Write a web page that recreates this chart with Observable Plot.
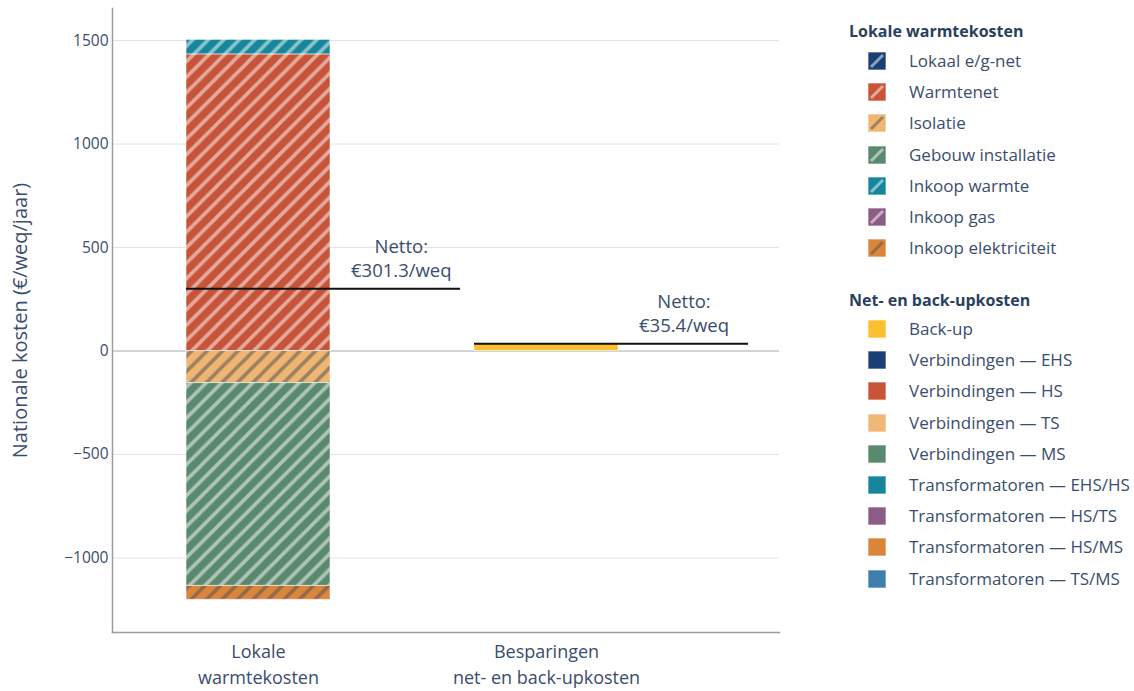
<!DOCTYPE html>
<html>
<head>
<meta charset="utf-8">
<script src="https://cdn.jsdelivr.net/npm/d3@7"></script>
<script src="https://cdn.jsdelivr.net/npm/@observablehq/plot@0.6"></script>
<style>
  body { margin: 0; background: #fff; font-family: "Open Sans", sans-serif; }
  #wrap { position: relative; width: 1134px; height: 691px; overflow: hidden; }
  #chart { position: absolute; left: 0; top: 0; }
  #legend { position: absolute; left: 0; top: 0; width: 1134px; height: 691px; pointer-events: none; }
  .lg-title { position: absolute; font-weight: 700; font-size: 16px; color: #2a3f5f; white-space: nowrap; line-height: 20px; }
  .lg-item { position: absolute; font-size: 17px; color: #3a4d6e; white-space: nowrap; line-height: 20px; }
  .lg-item svg { position: absolute; left: 0; top: 1px; }
  .lg-item span { position: absolute; left: 41px; top: 0; }
</style>
</head>
<body>
<div id="wrap"><div id="chart"></div><div id="legend"></div></div>
<script>
// ---------------- data ----------------
const categories = ["Lokale warmtekosten", "Besparingen net- en back-upkosten"];
const categoryLabels = ["Lokale\nwarmtekosten", "Besparingen\nnet- en back-upkosten"];

const localTitle = "Lokale warmtekosten";
const localSeries = ["Lokaal e/g-net", "Warmtenet", "Isolatie", "Gebouw installatie", "Inkoop warmte", "Inkoop gas", "Inkoop elektriciteit"];
const localValues = [0, 1433.3, -155, -980, 70, 0, -67];
const localColors = ["#1b3f73", "#c75438", "#efb672", "#5a8a6d", "#16879b", "#8b5c85", "#db853a"];
const localStripeDark = [false, false, true, false, false, false, true];

const gridTitle = "Net- en back-upkosten";
const gridSeries = ["Back-up", "Verbindingen — EHS", "Verbindingen — HS", "Verbindingen — TS", "Verbindingen — MS", "Transformatoren — EHS/HS", "Transformatoren — HS/TS", "Transformatoren — HS/MS", "Transformatoren — TS/MS"];
const gridValues = [35.4, 0, 0, 0, 0, 0, 0, 0, 0];
const gridColors = ["#fbc02d", "#1b3f73", "#c75438", "#f0b877", "#5a8a6d", "#16879b", "#8b5c85", "#db853a", "#3e7fad"];

const netValues = [301.3, 35.4];
const yTicks = [-1000, -500, 0, 500, 1000, 1500];
const yDomain = [-1360, 1655];
const yLabel = "Nationale kosten (€/weq/jaar)";

// ---------------- layout / style ----------------
const textColor = "#3a4d6e";
const W = 840, H = 691;
const mL = 112, mR = 61, mT = 8, mB = 59;
const padIn = 0.5, padOut = 0.404, align = 0.317;
const step = (W - mL - mR) / (categories.length - padIn + 2 * padOut);
const bw = step * (1 - padIn);
const netLineExtra = step * 0.95 - bw;   // net line reaches almost to next band
const labelOffset = step * 0.57;         // left of the net label block from band start
const P = 15.5;                          // stripe period
const netFont = 18.5;

const localRows = localSeries.map((s, i) => ({cat: categories[0], series: s, value: localValues[i], fill: `url(#pat${i})`}));
const gridRows = gridSeries.map((s, i) => ({cat: categories[1], series: s, value: gridValues[i], fill: gridColors[i]}));
const rows = [...localRows, ...gridRows].filter(d => d.value !== 0);
const netData = categories.map((c, i) => ({cat: c, net: netValues[i], label: `Netto:\n€${netValues[i].toFixed(1)}/weq`}));

const ctx = document.createElement("canvas").getContext("2d");
ctx.font = `${netFont}px "Open Sans"`;
const textW = s => Math.max(...s.split("\n").map(l => ctx.measureText(l).width));

const netTextMarks = netData.map(d => Plot.text([d], {
  x: "cat", y: "net", text: "label", textAnchor: "middle", lineAnchor: "bottom",
  lineHeight: 1.3, fontSize: netFont, fill: textColor,
  dx: labelOffset - bw / 2 + textW(d.label) / 2, dy: -12
}));

const svg = Plot.plot({
  width: W, height: H,
  marginLeft: mL, marginRight: mR, marginTop: mT, marginBottom: mB,
  style: {fontFamily: '"Open Sans", sans-serif', fontSize: "15px", color: textColor, background: "white"},
  x: {domain: categories, paddingInner: padIn, paddingOuter: padOut, align, label: null},
  y: {domain: yDomain, label: null},
  color: {type: "identity"},
  marks: [
    Plot.gridY(yTicks, {stroke: "#e3e3e3", strokeOpacity: 1, strokeWidth: 1}),
    Plot.ruleY([0], {stroke: "#b8b8b8", strokeWidth: 1}),
    Plot.barY(rows, {x: "cat", y: "value", fill: "fill", stroke: "white", strokeWidth: 1, strokeOpacity: 0.55}),
    Plot.ruleY(netData, {x1: "cat", x2: "cat", y: "net", stroke: "#111", strokeWidth: 2, insetRight: -netLineExtra}),
    ...netTextMarks,
    Plot.axisY(yTicks, {tickSize: 0, tickPadding: 4, tickFormat: d3.format("d"), label: null, fontSize: 15.5, fill: textColor}),
    Plot.text([yLabel], {text: d => d, frameAnchor: "left", textAnchor: "middle", rotate: -90, dx: -92, fontSize: 20, fill: textColor}),
    Plot.axisX({tickSize: 0, tickPadding: 7, tickFormat: d => categoryLabels[categories.indexOf(d)], fontSize: 18, lineHeight: 1.44, label: null, fill: textColor}),
    Plot.frame({anchor: "left", stroke: "#9d9d9d", strokeWidth: 1.5}),
    Plot.frame({anchor: "bottom", stroke: "#9d9d9d", strokeWidth: 1.5})
  ]
});

// patterns
const NS = "http://www.w3.org/2000/svg";
const defs = document.createElementNS(NS, "defs");
localColors.forEach((c, i) => {
  const p = document.createElementNS(NS, "pattern");
  p.setAttribute("id", `pat${i}`);
  p.setAttribute("patternUnits", "userSpaceOnUse");
  p.setAttribute("width", P); p.setAttribute("height", P);
  const r = document.createElementNS(NS, "rect");
  r.setAttribute("width", P); r.setAttribute("height", P); r.setAttribute("fill", c);
  const path = document.createElementNS(NS, "path");
  path.setAttribute("d", `M${-P/4},${P/4}L${P/4},${-P/4}M0,${P}L${P},0M${3*P/4},${5*P/4}L${5*P/4},${3*P/4}`);
  path.setAttribute("stroke", localStripeDark[i] ? "#555" : "#fff");
  path.setAttribute("stroke-opacity", localStripeDark[i] ? 0.55 : 0.5);
  path.setAttribute("stroke-width", 3.6);
  p.appendChild(r); p.appendChild(path);
  defs.appendChild(p);
});
svg.insertBefore(defs, svg.firstChild);
document.getElementById("chart").appendChild(svg);

// ---------------- legend ----------------
const legend = document.getElementById("legend");
const rowH = 31.2;
function addTitle(text, cy) {
  const d = document.createElement("div");
  d.className = "lg-title"; d.textContent = text;
  d.style.left = "849px"; d.style.top = (cy - 10) + "px";
  legend.appendChild(d);
}
function addItem(text, cy, color, stripe) {
  const d = document.createElement("div");
  d.className = "lg-item";
  d.style.left = "868px"; d.style.top = (cy - 10) + "px";
  let sw = `<svg width="18" height="18" viewBox="0 0 18 18"><rect x="0.5" y="0.5" width="17" height="17" fill="${color}" stroke="${color}" stroke-opacity="0.35"/>`;
  if (stripe) sw += `<path d="M3,15L15,3" stroke="${stripe[0]}" stroke-opacity="${stripe[1]}" stroke-width="3"/>`;
  sw += `</svg>`;
  d.innerHTML = sw + `<span></span>`;
  d.querySelector("span").textContent = text;
  legend.appendChild(d);
}
addTitle(localTitle, 31);
localSeries.forEach((s, i) => addItem(s, 61 + i * rowH, localColors[i], localStripeDark[i] ? ["#555", 0.55] : ["#fff", 0.5]));
addTitle(gridTitle, 300);
gridSeries.forEach((s, i) => addItem(s, 329 + i * rowH, gridColors[i], null));
</script>
</body>
</html>
